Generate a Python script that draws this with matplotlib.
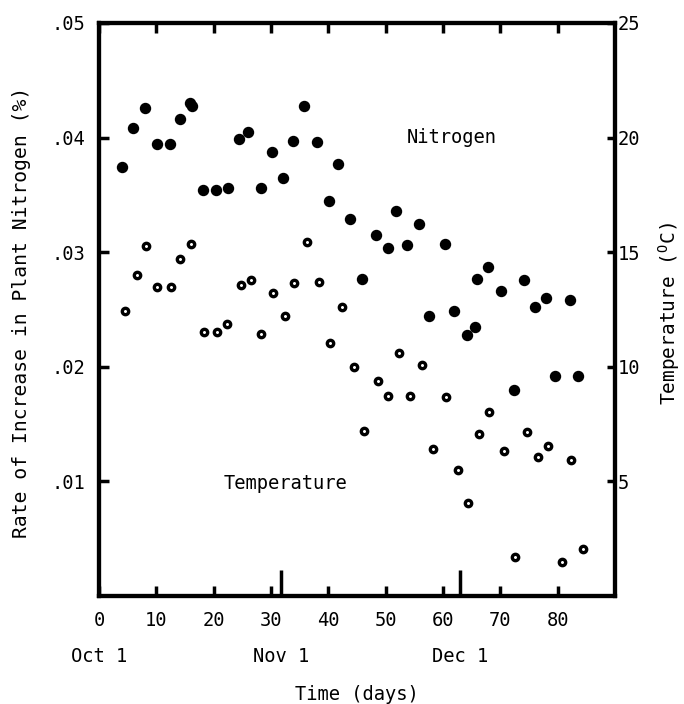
import matplotlib
matplotlib.use("Agg")
import matplotlib.pyplot as plt
import matplotlib.transforms as mtransforms

plt.rcParams['font.family'] = ['DejaVu Sans Mono']
plt.rcParams['mathtext.fontset'] = 'custom'
plt.rcParams['mathtext.rm'] = 'DejaVu Sans Mono'

# ---- data ----
nitrogen_day = [4.0, 6.0, 8.0, 10.1, 12.3, 14.1, 15.8, 16.2, 18.1, 20.4, 22.5, 24.4, 26.0,
                28.2, 30.2, 32.1, 33.9, 35.7, 38.0, 40.2, 41.7, 43.7, 45.8, 48.3, 50.4,
                51.8, 53.8, 55.8, 57.5, 60.3, 62.0, 64.1, 65.5, 66.0, 67.9, 70.1, 72.3,
                74.1, 76.0, 77.9, 79.6, 82.2, 83.6]
nitrogen_rate = [.0374, .0408, .0426, .0394, .0394, .0416, .0430, .0428, .0354, .0354, .0356,
                 .0399, .0405, .0356, .0387, .0365, .0397, .0428, .0396, .0345, .0377, .0329,
                 .0277, .0315, .0304, .0336, .0306, .0325, .0244, .0307, .0249, .0228, .0235,
                 .0277, .0287, .0266, .0180, .0276, .0252, .0260, .0192, .0258, .0192]

temp_day = [4.6, 6.7, 8.2, 10.2, 12.5, 14.1, 16.1, 18.4, 20.5, 22.3, 24.7, 26.5, 28.3, 30.4,
            32.5, 34.0, 36.3, 38.4, 40.3, 42.4, 44.4, 46.3, 48.6, 50.4, 52.3, 54.3, 56.4,
            58.3, 60.5, 62.6, 64.3, 66.2, 68.1, 70.7, 72.6, 74.6, 76.5, 78.4, 80.8, 82.3, 84.5]
temp_c = [12.45, 14.02, 15.27, 13.47, 13.47, 14.72, 15.36, 11.51, 11.51, 11.85, 13.56, 13.79,
          11.44, 13.21, 12.2, 13.64, 15.43, 13.71, 11.05, 12.62, 9.98, 7.2, 9.37, 8.71, 10.62,
          8.74, 10.07, 6.4, 8.67, 5.48, 4.04, 7.07, 8.03, 6.31, 1.7, 7.17, 6.08, 6.56, 1.47,
          5.93, 2.06]

x_ticks = [0, 10, 20, 30, 40, 50, 60, 70, 80]
x_ticklabels = ['0', '10', '20', '30', '40', '50', '60', '70', '80']
left_ticks = [.01, .02, .03, .04, .05]
left_ticklabels = ['.01', '.02', '.03', '.04', '.05']
right_ticks = [5, 10, 15, 20, 25]
right_ticklabels = ['5', '10', '15', '20', '25']
month_days = [0, 31.8, 63.0]
month_labels = ['Oct 1', 'Nov 1', 'Dec 1']

W, H = 684, 704
fig = plt.figure(figsize=(W / 100, H / 100), dpi=100)
ax = fig.add_axes([99 / W, 1 - 596 / H, (615 - 99) / W, (596 - 23) / H])
ax2 = ax.twinx()

lw_sp = 3.0
for a in (ax, ax2):
    for s in a.spines.values():
        s.set_linewidth(lw_sp)

ax.set_xlim(0, 90)
ax.set_ylim(0, 0.05)
ax2.set_ylim(0, 25)

ax.plot(nitrogen_day, nitrogen_rate, 'o', color='black', markersize=7.2, linestyle='none')
ax2.plot(temp_day, temp_c, 'o', markerfacecolor='white', markeredgecolor='black',
         markersize=4.6, markeredgewidth=2.4, linestyle='none')

fs = 13.5
ax.set_xticks(x_ticks)
ax.set_xticklabels(x_ticklabels, fontsize=fs)
ax.set_xticks(month_days[1:], minor=True)
ax.tick_params(axis='x', which='major', direction='in', length=7, width=2.5,
               top=True, bottom=True, pad=11)
ax.tick_params(axis='x', which='minor', direction='in', length=19, width=2.5,
               top=False, bottom=True, labelbottom=False)

ax.set_yticks(left_ticks)
ax.set_yticklabels(left_ticklabels, fontsize=fs)
ax.tick_params(axis='y', direction='in', length=7, width=2.5, pad=10)

ax2.set_yticks(right_ticks)
ax2.set_yticklabels(right_ticklabels, fontsize=fs)
ax2.tick_params(axis='y', direction='in', length=6, width=2.5, pad=2)

# month labels under the day axis
trans = mtransforms.blended_transform_factory(ax.transData, fig.transFigure)
for d, lab in zip(month_days, month_labels):
    ax.text(d, 1 - 657 / H, lab, transform=trans, ha='center', va='center', fontsize=fs)

fig.text(0.5 * (99 + 615) / W, 1 - 695 / H, 'Time (days)', ha='center', va='center', fontsize=fs)
fig.text(22 / W, 1 - 312 / H, 'Rate of Increase in Plant Nitrogen (%)', rotation=90,
         ha='center', va='center', fontsize=14.1)
fig.text(669 / W, 1 - 313 / H, r'Temperature ($^{\mathrm{O}}$C)', rotation=90,
         ha='center', va='center', fontsize=14)

ax.text(61.6, 0.0400, 'Nitrogen', ha='center', va='center', fontsize=fs)
ax.text(32.6, 0.0098, 'Temperature', ha='center', va='center', fontsize=fs)

fig.savefig('out.png', dpi=100)
